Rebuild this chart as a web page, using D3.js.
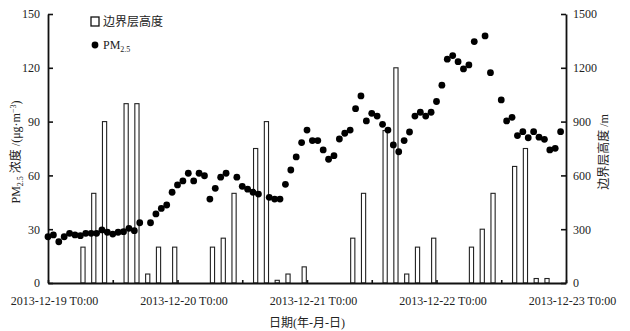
<!DOCTYPE html>
<html>
<head>
<meta charset="utf-8">
<script src="https://cdn.jsdelivr.net/npm/d3@7"></script>
<style>
  body { margin: 0; background: #fff; }
  svg text { font-family: "Liberation Serif", "Noto Sans CJK SC", serif; fill: #222; }
</style>
</head>
<body>
<svg id="chart" width="630" height="331"></svg>
<script>
// PM2.5 hourly values (hours after 2013-12-19 0:00)
const pmHours = [0,1,2,3,4,5,6,7,8,9,10,11,12,13,14,15,16,17,19,20,21,22,23,24,25,26,27,28,29,30,31,32,33,35,36,37,38,39,41,42,43,44,45,46,47,48,49,50,51,52,53,54,55,56,57,58,59,60,61,62,63,64,65,66,67,68,69,70,71,72,73,74,75,76,77,78,79,81,82,84,85,86,87,88,89,90,91,92,93,94,95];
const pmValues = [25.8,26.8,23.0,25.8,27.7,26.8,26.4,27.7,27.7,27.7,29.6,28.3,27.3,28.3,28.6,30.5,29.2,33.6,33.6,38.5,41.6,43.5,50.6,54.7,56.9,61.2,56.9,61.2,59.8,46.8,52.8,59.0,61.2,59.0,53.9,52.3,50.6,49.6,47.8,46.8,46.8,55.0,63.0,70.3,78.3,85.3,79.4,79.4,74.2,69.0,71.0,80.3,83.5,85.3,97.2,104.3,90.4,94.6,93.1,88.5,85.3,77.0,73.2,79.4,84.2,93.1,95.2,93.1,95.2,101.2,110.3,124.8,126.8,123.4,119.4,121.6,134.6,137.8,117.3,102.1,90.4,92.4,82.2,84.4,81.0,84.4,81.3,80.1,74.2,75.1,84.4];

// boundary layer height (m)
const blhHours = [6,8,10,14,16,18,20,23,30,32,34,38,40,42,44,47,56,58,62,64,66,68,71,78,80,82,86,88,90,92];
const blhValues = [200,500,900,1000,1000,50,200,200,200,250,500,750,900,15,50,90,250,500,850,1200,50,200,250,200,300,500,650,750,25,25];

const leftTicks = [0,30,60,90,120,150];
const rightTicks = [0,300,600,900,1200,1500];
const dateLabels = ['2013-12-19 T0:00','2013-12-20 T0:00','2013-12-21 T0:00','2013-12-22 T0:00','2013-12-23 T0:00'];

const start = new Date(2013, 11, 19, 0, 0);
const toDate = h => new Date(start.getTime() + h * 3600e3);

const margin = { top: 14, left: 48, right: 64, bottom: 48 };
const W = 630, H = 331;
const x0 = margin.left, x1 = W - margin.right, y0 = H - margin.bottom, y1 = margin.top;

const svg = d3.select('#chart');

const x = d3.scaleTime().domain([start, toDate(96)]).range([x0, x1]);
const yL = d3.scaleLinear().domain([0, 150]).range([y0, y1]);
const yR = d3.scaleLinear().domain([0, 1500]).range([y0, y1]);

// bars
const hourW = x(toDate(1)) - x(toDate(0));
svg.append('g')
  .selectAll('rect')
  .data(blhHours.map((h, i) => ({ h, v: blhValues[i] })))
  .join('rect')
  .attr('x', d => x(toDate(d.h)) + 0.5)
  .attr('y', d => yR(d.v))
  .attr('width', hourW - 1.2)
  .attr('height', d => y0 - yR(d.v))
  .attr('fill', '#fff')
  .attr('stroke', '#222')
  .attr('stroke-width', 1.1);

// axes
const dayIndex = d => Math.round((d - start) / 86400e3);
const xAxis = svg.append('g')
  .attr('transform', `translate(0,${y0})`)
  .call(d3.axisBottom(x)
    .tickValues(d3.range(0, 97, 12).map(toDate))
    .tickSizeInner(-3).tickSizeOuter(0).tickPadding(13.5)
    .tickFormat(d => d.getHours() === 0 ? dateLabels[dayIndex(d)] : ''));
xAxis.selectAll('text').attr('dx', 6).style('font-size', '12px');

const lAxis = svg.append('g')
  .attr('transform', `translate(${x0},0)`)
  .call(d3.axisLeft(yL).tickValues(leftTicks).tickSizeInner(-5).tickSizeOuter(0).tickPadding(8)
    .tickFormat(d3.format('d')));
lAxis.selectAll('text').style('font-size', '12px');

const rAxis = svg.append('g')
  .attr('transform', `translate(${x1},0)`)
  .call(d3.axisRight(yR).tickValues(rightTicks).tickSizeInner(-5).tickSizeOuter(0).tickPadding(7)
    .tickFormat(d3.format('d')));
rAxis.selectAll('text').style('font-size', '12px');

svg.selectAll('.domain').attr('stroke', '#111').attr('stroke-width', 1.8);
svg.selectAll('.tick line').attr('stroke', '#111').attr('stroke-width', 1.6);

// points
svg.append('g')
  .selectAll('circle')
  .data(pmHours.map((h, i) => ({ h, v: pmValues[i] })))
  .join('circle')
  .attr('cx', d => x(toDate(d.h)))
  .attr('cy', d => yL(d.v))
  .attr('r', 3.4)
  .attr('fill', '#000');

// axis titles
svg.append('text')
  .attr('x', (x0 + x1) / 2)
  .attr('y', 327)
  .attr('text-anchor', 'middle')
  .style('font-size', '12px')
  .text('日期(年-月-日)');

const lt = svg.append('text')
  .attr('transform', 'translate(20,152) rotate(-90)')
  .attr('text-anchor', 'middle')
  .style('font-size', '12px');
lt.append('tspan').text('PM');
lt.append('tspan').attr('dy', 3).style('font-size', '8px').text('2.5');
lt.append('tspan').attr('dy', -3).text(' 浓度 /(μg·m');
lt.append('tspan').attr('dy', -4).style('font-size', '8px').text('−3');
lt.append('tspan').attr('dy', 4).text(')');

svg.append('text')
  .attr('transform', 'translate(608,152) rotate(-90)')
  .attr('text-anchor', 'middle')
  .style('font-size', '12px')
  .text('边界层高度 /m');

// legend
const lg = svg.append('g');
lg.append('rect').attr('x', 91).attr('y', 17).attr('width', 8).attr('height', 9)
  .attr('fill', '#fff').attr('stroke', '#111').attr('stroke-width', 1.3);
lg.append('text').attr('x', 103).attr('y', 26).style('font-size', '12px').text('边界层高度');
lg.append('circle').attr('cx', 95).attr('cy', 45).attr('r', 3.4).attr('fill', '#000');
const pl = lg.append('text').attr('x', 103).attr('y', 49).style('font-size', '12px');
pl.append('tspan').text('PM');
pl.append('tspan').attr('dy', 3).style('font-size', '8px').text('2.5');
</script>
</body>
</html>
